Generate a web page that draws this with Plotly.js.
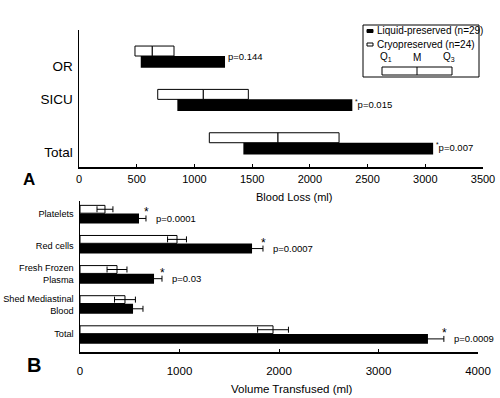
<!DOCTYPE html>
<html><head><meta charset="utf-8">
<script src="https://cdn.plot.ly/plotly-3.0.1.min.js"></script>
<style>html,body{margin:0;padding:0;background:#fff}#chart{width:500px;height:398px}</style>
</head><body><div id="chart"></div>
<script>
// ---- Panel A: blood loss, quartiles (ml)
const sitesA = ['OR', 'SICU', 'Total'];
const liqQ1 = [535, 852, 1424];
const liqQ3 = [1265, 2368, 3068];
const cryoQ1 = [485, 682, 1129];
const cryoM = [635, 1077, 1724];
const cryoQ3 = [823, 1467, 2253];
const pA = ['p=0.144', '<sup>*</sup>p=0.015', '<sup>*</sup>p=0.007'];

// ---- Panel B: volume transfused, mean ± SE (ml)
const compB = ['Platelets', 'Red cells', 'Fresh Frozen<br>Plasma', 'Shed Mediastinal<br>Blood', 'Total'];
const liqB = [593, 1729, 744, 533, 3497];
const liqErr = [70, 110, 80, 100, 160];
const cryoB = [251, 975, 372, 452, 1940];
const cryoErr = [80, 95, 100, 105, 155];
const pB = ['p=0.0001', 'p=0.0007', 'p=0.03', '', 'p=0.0009'];

const FONT = '"Liberation Sans", Arial, Helvetica, sans-serif';
const posA = sitesA.map((_, i) => i);
const posB = compB.map((_, i) => i);
const labelNudgeA = [0.21, -0.02, 0.2];
const labelNudgeB = [0, 0.07, 0, 0.03, 0];
const pNudgeA = [0, 0.08, 0.08];

const traces = [
  { type: 'bar', orientation: 'h', y: posA, base: cryoQ1, x: cryoM.map((m, i) => m - cryoQ1[i]),
    offset: -0.25, width: 0.23, marker: { color: 'white', line: { color: 'black', width: 1 } },
    xaxis: 'x', yaxis: 'y', hoverinfo: 'skip' },
  { type: 'bar', orientation: 'h', y: posA, base: cryoM, x: cryoQ3.map((q, i) => q - cryoM[i]),
    offset: -0.25, width: 0.23, marker: { color: 'white', line: { color: 'black', width: 1 } },
    xaxis: 'x', yaxis: 'y', hoverinfo: 'skip' },
  { type: 'bar', orientation: 'h', y: posA, base: liqQ1, x: liqQ3.map((q, i) => q - liqQ1[i]),
    offset: -0.02, width: 0.27, marker: { color: 'black', line: { width: 0 } },
    xaxis: 'x', yaxis: 'y', hoverinfo: 'skip' },
  { type: 'bar', orientation: 'h', y: posB, x: cryoB,
    offset: -0.27, width: 0.26, marker: { color: 'white', line: { color: 'black', width: 1 } },
    error_x: { type: 'data', array: cryoErr, color: 'black', thickness: 1, width: 3 },
    xaxis: 'x2', yaxis: 'y2', hoverinfo: 'skip' },
  { type: 'bar', orientation: 'h', y: posB, x: liqB,
    offset: 0, width: 0.33, marker: { color: 'black', line: { width: 0 } },
    error_x: { type: 'data', array: liqErr, color: 'black', thickness: 1, width: 3 },
    xaxis: 'x2', yaxis: 'y2', hoverinfo: 'skip' }
];

const f = (size) => ({ size: size, family: FONT, color: 'black' });
const annotations = [];
sitesA.forEach((s, i) => {
  annotations.push({ xref: 'x', yref: 'y', x: liqQ3[i], y: posA[i] + pNudgeA[i], text: pA[i],
    showarrow: false, xanchor: 'left', yanchor: 'middle', xshift: 1, font: f(9.5) });
});
compB.forEach((c, i) => {
  if (!pB[i]) return;
  const end = liqB[i] + liqErr[i];
  annotations.push({ xref: 'x2', yref: 'y2', x: end, y: posB[i] + 0.165, text: '*',
    showarrow: false, xanchor: 'center', yanchor: 'middle', xshift: 1, yshift: 6, font: f(12) });
  annotations.push({ xref: 'x2', yref: 'y2', x: end, y: posB[i] + 0.165, text: pB[i],
    showarrow: false, xanchor: 'left', yanchor: 'middle', xshift: 8, font: f(9.5) });
});
const px = v => v / 500, py = v => 1 - v / 398;
const paperText = (x, y, text, size, anchor, fam) => ({ xref: 'paper', yref: 'paper', x: px(x), y: py(y), text: text,
  showarrow: false, xanchor: anchor || 'center', yanchor: 'middle',
  font: { size: size, family: fam || FONT, color: 'black' } });
// axis titles and panel letters
annotations.push(paperText(294, 197, 'Blood Loss (ml)', 11));
annotations.push(paperText(292, 389, 'Volume Transfused (ml)', 11.5));
annotations.push(paperText(28.5, 179, '<b>A</b>', 17));
annotations.push(paperText(34, 365, '<b>B</b>', 20));
// legend
annotations.push(paperText(374.5, 30.5, 'Liquid-preserved (n=29)', 10, 'left'));
annotations.push(paperText(374.5, 44, 'Cryopreserved (n=24)', 10, 'left'));
annotations.push(paperText(386, 57, 'Q<sub>1</sub>', 10));
annotations.push(paperText(417, 57, 'M', 10));
annotations.push(paperText(449, 57, 'Q<sub>3</sub>', 10));

const shapes = [
  { type: 'rect', xref: 'paper', yref: 'paper', x0: px(363), x1: px(479), y0: py(77), y1: py(25), line: { color: 'black', width: 1 } },
  { type: 'rect', xref: 'paper', yref: 'paper', x0: px(367), x1: px(373), y0: py(32.5), y1: py(29.5), fillcolor: 'black', line: { color: 'black', width: 1 } },
  { type: 'rect', xref: 'paper', yref: 'paper', x0: px(367), x1: px(373), y0: py(46), y1: py(43), fillcolor: 'white', line: { color: 'black', width: 1 } },
  { type: 'rect', xref: 'paper', yref: 'paper', x0: px(382), x1: px(452), y0: py(75), y1: py(67), fillcolor: 'white', line: { color: 'black', width: 1 } },
  { type: 'line', xref: 'paper', yref: 'paper', x0: px(417), x1: px(417), y0: py(75), y1: py(67), line: { color: 'black', width: 1 } }
];

const axisCommon = { showline: true, linecolor: 'black', linewidth: 1.5, showgrid: false, zeroline: false };

const layout = {
  width: 500, height: 398,
  margin: { l: 0, r: 0, t: 0, b: 0 },
  paper_bgcolor: 'white', plot_bgcolor: 'white',
  barmode: 'overlay', showlegend: false,
  font: { family: FONT, color: 'black' },
  xaxis: Object.assign({}, axisCommon, { domain: [79 / 500, 483 / 500], range: [0, 3500], dtick: 500, tick0: 0,
    ticks: 'inside', ticklen: 3, tickwidth: 1, tickcolor: 'black', anchor: 'y',
    tickfont: f(11), ticklabelstandoff: 1 }),
  yaxis: Object.assign({}, axisCommon, { domain: [1 - 167 / 398, 1 - 30 / 398], range: [2.54, -0.62], anchor: 'x',
    tickvals: posA.map((p, i) => p + labelNudgeA[i]), ticktext: sitesA, ticks: '',
    tickfont: f(13.5), ticklabelstandoff: 2 }),
  xaxis2: Object.assign({}, axisCommon, { domain: [80 / 500, 478 / 500], range: [0, 4000], dtick: 1000, tick0: 0,
    ticks: 'inside', ticklen: 3, tickwidth: 1, tickcolor: 'black', anchor: 'y2',
    tickfont: f(11.5), ticklabelstandoff: 8 }),
  yaxis2: Object.assign({}, axisCommon, { domain: [1 - 352 / 398, 1 - 201 / 398], range: [4.6, -0.415], anchor: 'x2',
    tickvals: posB.map((p, i) => p + labelNudgeB[i]), ticktext: compB, ticks: '',
    tickfont: f(9.2), ticklabelstandoff: 3 }),
  annotations: annotations,
  shapes: shapes
};

Plotly.newPlot('chart', traces, layout, { staticPlot: true, displayModeBar: false });
</script>
</body></html>
